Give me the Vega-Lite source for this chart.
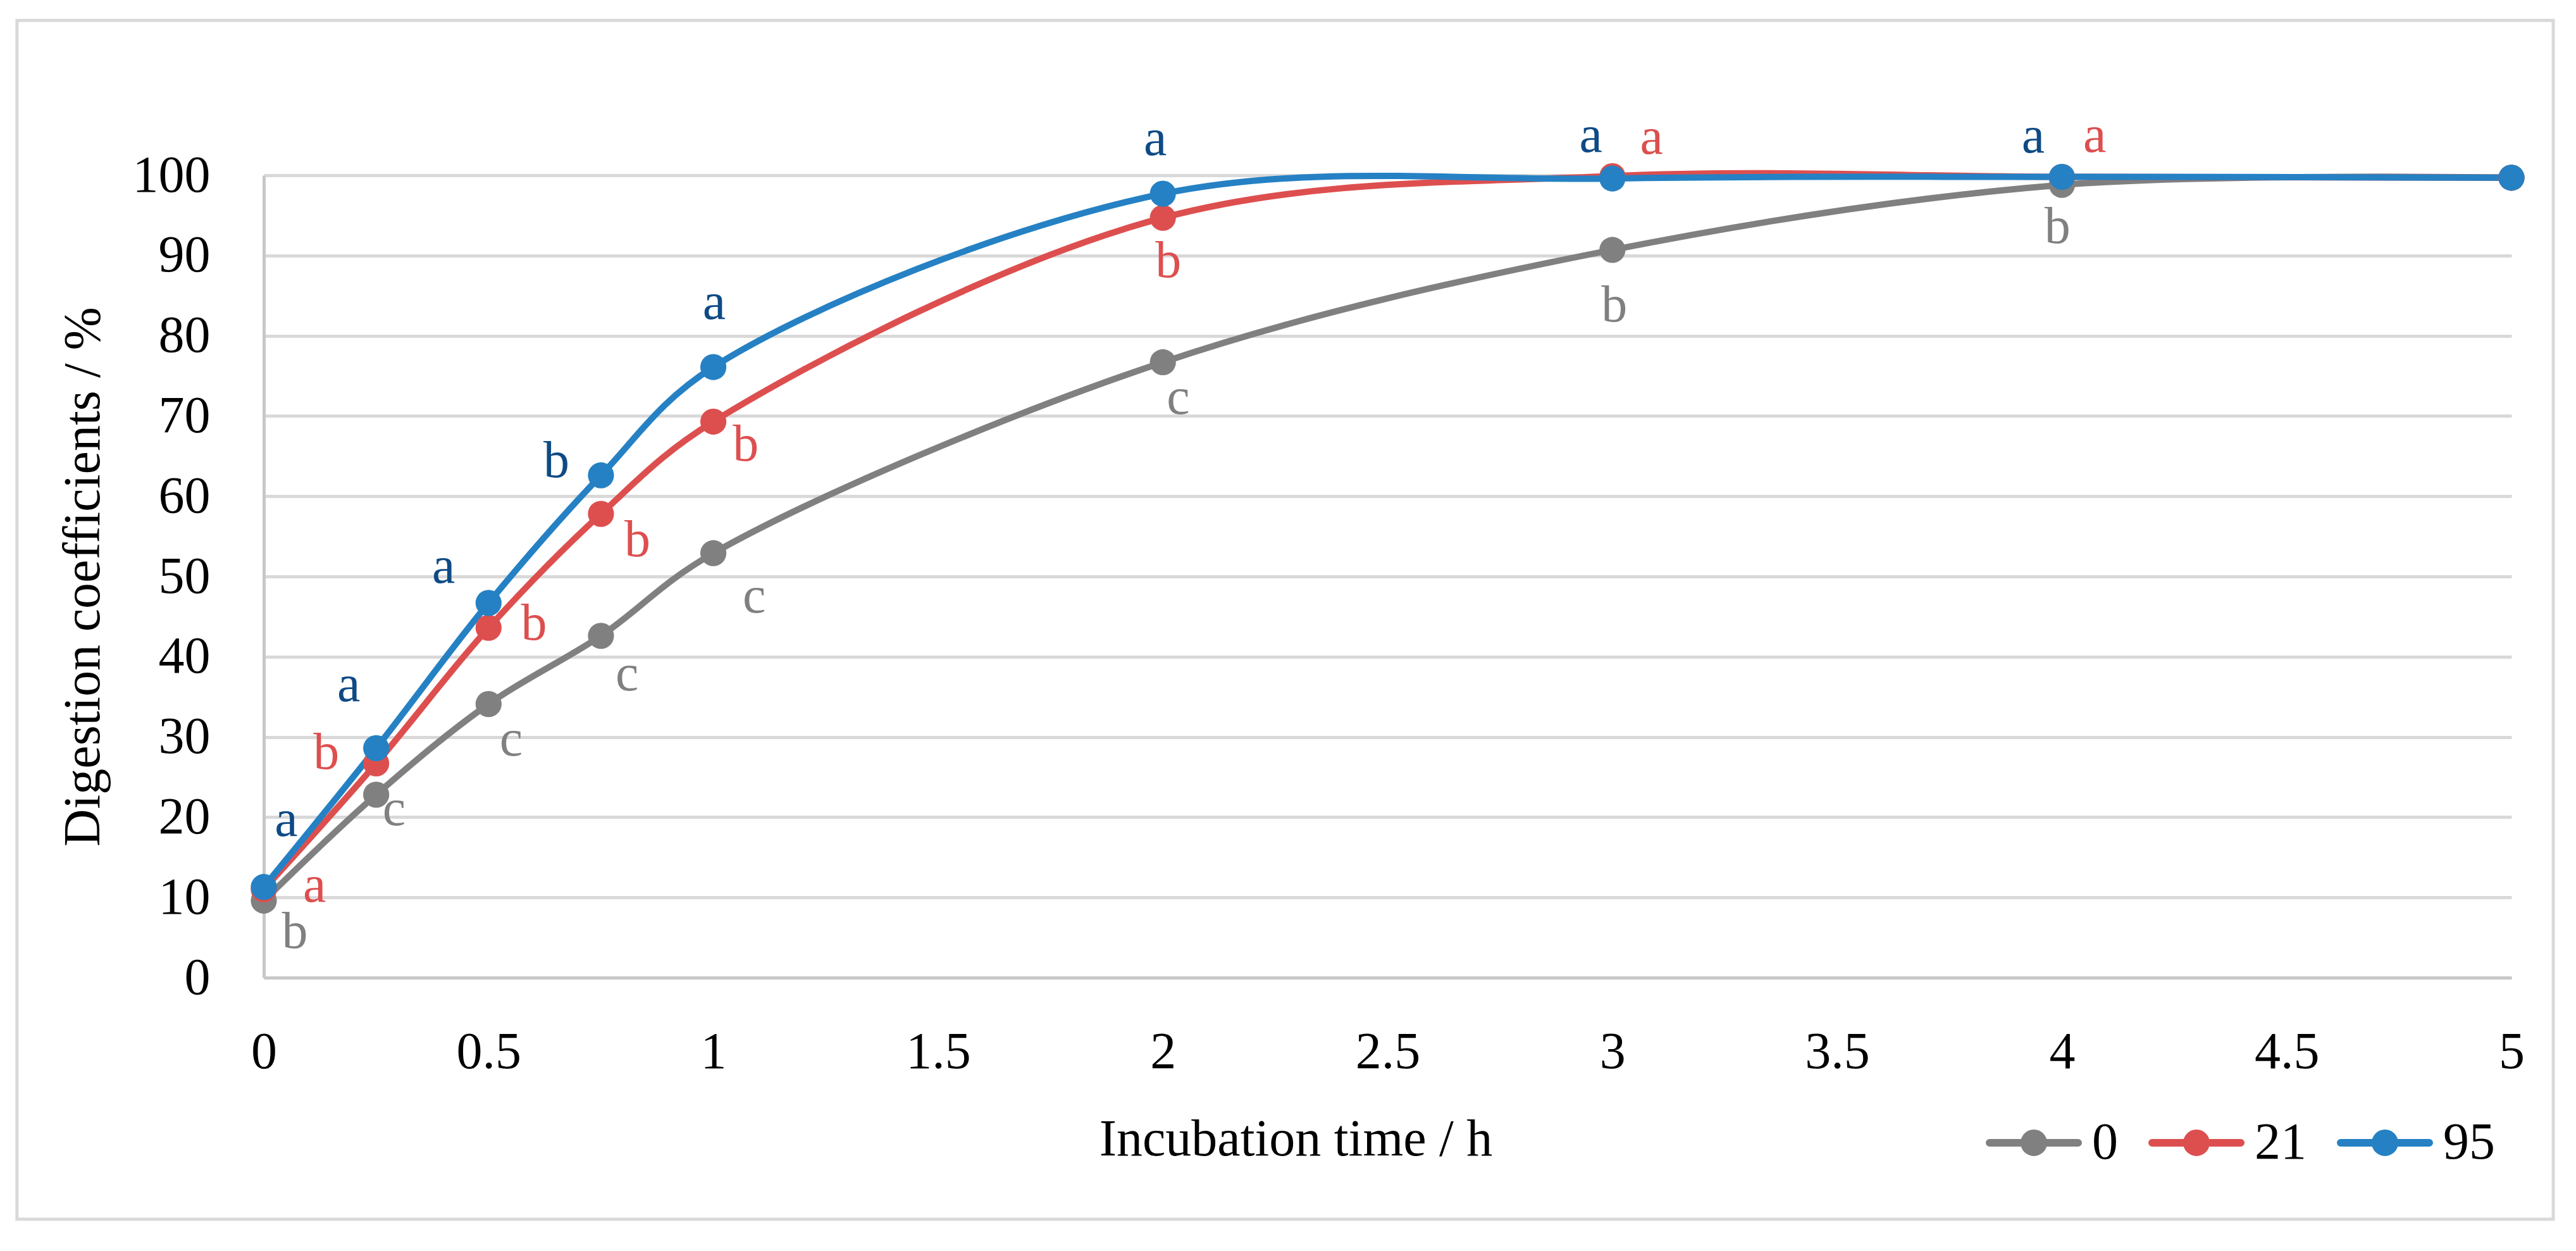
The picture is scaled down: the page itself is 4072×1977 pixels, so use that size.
{
  "$schema": "https://vega.github.io/schema/vega-lite/v6.json",
  "width": 3553,
  "height": 1268,
  "autosize": {"type": "none"},
  "padding": {"left": 417, "top": 277, "right": 102, "bottom": 432},
  "background": "white",
  "datasets": {
    "series": [
      {"s": "0", "t": 0, "v": 9.6},
      {"s": "0", "t": 0.25, "v": 22.8},
      {"s": "0", "t": 0.5, "v": 34.1},
      {"s": "0", "t": 0.75, "v": 42.6},
      {"s": "0", "t": 1, "v": 52.9},
      {"s": "0", "t": 2, "v": 76.7},
      {"s": "0", "t": 3, "v": 90.7},
      {"s": "0", "t": 4, "v": 98.8},
      {"s": "0", "t": 5, "v": 99.7},
      {"s": "21", "t": 0, "v": 11.0},
      {"s": "21", "t": 0.25, "v": 26.7},
      {"s": "21", "t": 0.5, "v": 43.6},
      {"s": "21", "t": 0.75, "v": 57.8},
      {"s": "21", "t": 1, "v": 69.3},
      {"s": "21", "t": 2, "v": 94.7},
      {"s": "21", "t": 3, "v": 99.9},
      {"s": "21", "t": 4, "v": 99.8},
      {"s": "21", "t": 5, "v": 99.7},
      {"s": "95", "t": 0, "v": 11.3},
      {"s": "95", "t": 0.25, "v": 28.6},
      {"s": "95", "t": 0.5, "v": 46.7},
      {"s": "95", "t": 0.75, "v": 62.6},
      {"s": "95", "t": 1, "v": 76.1},
      {"s": "95", "t": 2, "v": 97.7},
      {"s": "95", "t": 3, "v": 99.6},
      {"s": "95", "t": 4, "v": 99.8},
      {"s": "95", "t": 5, "v": 99.7}
    ],
    "letters": [
      {"s": "95", "letter": "a", "lt": 0.050, "lv": 17.7},
      {"s": "95", "letter": "a", "lt": 0.189, "lv": 34.5},
      {"s": "95", "letter": "a", "lt": 0.400, "lv": 49.2},
      {"s": "95", "letter": "b", "lt": 0.651, "lv": 62.4},
      {"s": "95", "letter": "a", "lt": 1.002, "lv": 82.1},
      {"s": "95", "letter": "a", "lt": 1.983, "lv": 102.5},
      {"s": "95", "letter": "a", "lt": 2.952, "lv": 102.9},
      {"s": "95", "letter": "a", "lt": 3.936, "lv": 102.8},
      {"s": "21", "letter": "a", "lt": 0.113, "lv": 9.5},
      {"s": "21", "letter": "b", "lt": 0.139, "lv": 26.0},
      {"s": "21", "letter": "b", "lt": 0.601, "lv": 42.1},
      {"s": "21", "letter": "b", "lt": 0.831, "lv": 52.5},
      {"s": "21", "letter": "b", "lt": 1.072, "lv": 64.4},
      {"s": "21", "letter": "b", "lt": 2.012, "lv": 87.3},
      {"s": "21", "letter": "a", "lt": 3.087, "lv": 102.7},
      {"s": "21", "letter": "a", "lt": 4.073, "lv": 102.9},
      {"s": "0", "letter": "b", "lt": 0.069, "lv": 3.7},
      {"s": "0", "letter": "c", "lt": 0.290, "lv": 19.0},
      {"s": "0", "letter": "c", "lt": 0.550, "lv": 27.7},
      {"s": "0", "letter": "c", "lt": 0.808, "lv": 35.8},
      {"s": "0", "letter": "c", "lt": 1.091, "lv": 45.5},
      {"s": "0", "letter": "c", "lt": 2.034, "lv": 70.3},
      {"s": "0", "letter": "b", "lt": 3.004, "lv": 81.8},
      {"s": "0", "letter": "b", "lt": 3.990, "lv": 91.6}
    ]
  },
  "layer": [
    {
      "data": {"values": [{"frame": 1}]},
      "mark": {"type": "rect", "fillOpacity": 0, "stroke": "#D9D9D9", "strokeWidth": 5},
      "encoding": {
        "x": {
          "datum": -0.549,
          "type": "quantitative",
          "scale": {"domain": [0, 5], "nice": false, "zero": false},
          "title": "Incubation time / h",
          "axis": {
            "values": [0, 0.5, 1, 1.5, 2, 2.5, 3, 3.5, 4, 4.5, 5],
            "format": "~g",
            "grid": false,
            "labelFlush": false,
            "labelBaseline": "alphabetic",
            "labelPadding": 142,
            "titleX": 1631,
            "titleY": 280,
            "titleBaseline": "alphabetic"
          }
        },
        "x2": {"datum": 5.093},
        "y": {
          "datum": 119.3,
          "type": "quantitative",
          "scale": {"domain": [0, 100], "nice": false, "zero": false},
          "title": "Digestion coefficients / %",
          "axis": {
            "values": [0, 10, 20, 30, 40, 50, 60, 70, 80, 90, 100],
            "format": "d",
            "grid": true,
            "labelFlush": false,
            "labelPadding": 85,
            "titleX": -286,
            "titleBaseline": "middle"
          }
        },
        "y2": {"datum": -30.1}
      }
    },
    {
      "data": {"name": "series"},
      "mark": {"type": "line", "interpolate": "catmull-rom", "strokeWidth": 10, "strokeCap": "round"},
      "encoding": {
        "x": {"field": "t", "type": "quantitative", "title": "Incubation time / h"},
        "y": {"field": "v", "type": "quantitative", "title": "Digestion coefficients / %"},
        "color": {
          "field": "s",
          "type": "nominal",
          "sort": ["0", "21", "95"],
          "scale": {"domain": ["0", "21", "95"], "range": ["#808080", "#DD4F4F", "#2581C4"]}
        }
      }
    },
    {
      "data": {"name": "series"},
      "mark": {"type": "point", "filled": true, "size": 1700, "opacity": 1},
      "encoding": {
        "x": {"field": "t", "type": "quantitative", "title": "Incubation time / h"},
        "y": {"field": "v", "type": "quantitative", "title": "Digestion coefficients / %"},
        "color": {
          "field": "s",
          "type": "nominal",
          "sort": ["0", "21", "95"],
          "legend": {
            "orient": "none",
            "legendX": 2722,
            "legendY": 1453,
            "direction": "horizontal",
            "title": null,
            "padding": 0,
            "symbolType": "M-1,0L1,0M-0.214,0A0.214,0.214 0 1,1 0.214,0A0.214,0.214 0 1,1 -0.214,0Z",
            "symbolSize": 19600,
            "symbolStrokeWidth": 12,
            "symbolOpacity": 1,
            "labelFont": "Liberation Serif",
            "labelFontSize": 82,
            "labelColor": "#000000",
            "labelOffset": 16,
            "columnPadding": 30,
            "encode": {
              "symbols": {
                "update": {
                  "fill": {"scale": "color", "field": "value"},
                  "stroke": {"scale": "color", "field": "value"},
                  "strokeWidth": {"value": 12},
                  "strokeCap": {"value": "round"},
                  "opacity": {"value": 1}
                }
              }
            }
          }
        }
      }
    },
    {
      "data": {"name": "letters"},
      "transform": [{"filter": "datum.s === '0'"}],
      "mark": {"type": "text", "align": "center", "baseline": "alphabetic", "fontSize": 82, "font": "Liberation Serif", "color": "#808080"},
      "encoding": {
        "x": {"field": "lt", "type": "quantitative"},
        "y": {"field": "lv", "type": "quantitative"},
        "text": {"field": "letter"}
      }
    },
    {
      "data": {"name": "letters"},
      "transform": [{"filter": "datum.s === '21'"}],
      "mark": {"type": "text", "align": "center", "baseline": "alphabetic", "fontSize": 82, "font": "Liberation Serif", "color": "#DD4F4F"},
      "encoding": {
        "x": {"field": "lt", "type": "quantitative"},
        "y": {"field": "lv", "type": "quantitative"},
        "text": {"field": "letter"}
      }
    },
    {
      "data": {"name": "letters"},
      "transform": [{"filter": "datum.s === '95'"}],
      "mark": {"type": "text", "align": "center", "baseline": "alphabetic", "fontSize": 82, "font": "Liberation Serif", "color": "#0E4A85"},
      "encoding": {
        "x": {"field": "lt", "type": "quantitative"},
        "y": {"field": "lv", "type": "quantitative"},
        "text": {"field": "letter"}
      }
    }
  ],
  "config": {
    "font": "Liberation Serif",
    "view": {"stroke": null},
    "axis": {
      "labelFont": "Liberation Serif",
      "labelFontSize": 82,
      "labelColor": "#000000",
      "titleFont": "Liberation Serif",
      "titleFontSize": 82,
      "titleFontWeight": "normal",
      "titleColor": "#000000",
      "gridColor": "#D9D9D9",
      "gridWidth": 5,
      "domainColor": "#C8C8C8",
      "domainWidth": 5,
      "ticks": false,
      "tickSize": 0,
      "labelOverlap": false
    }
  }
}
